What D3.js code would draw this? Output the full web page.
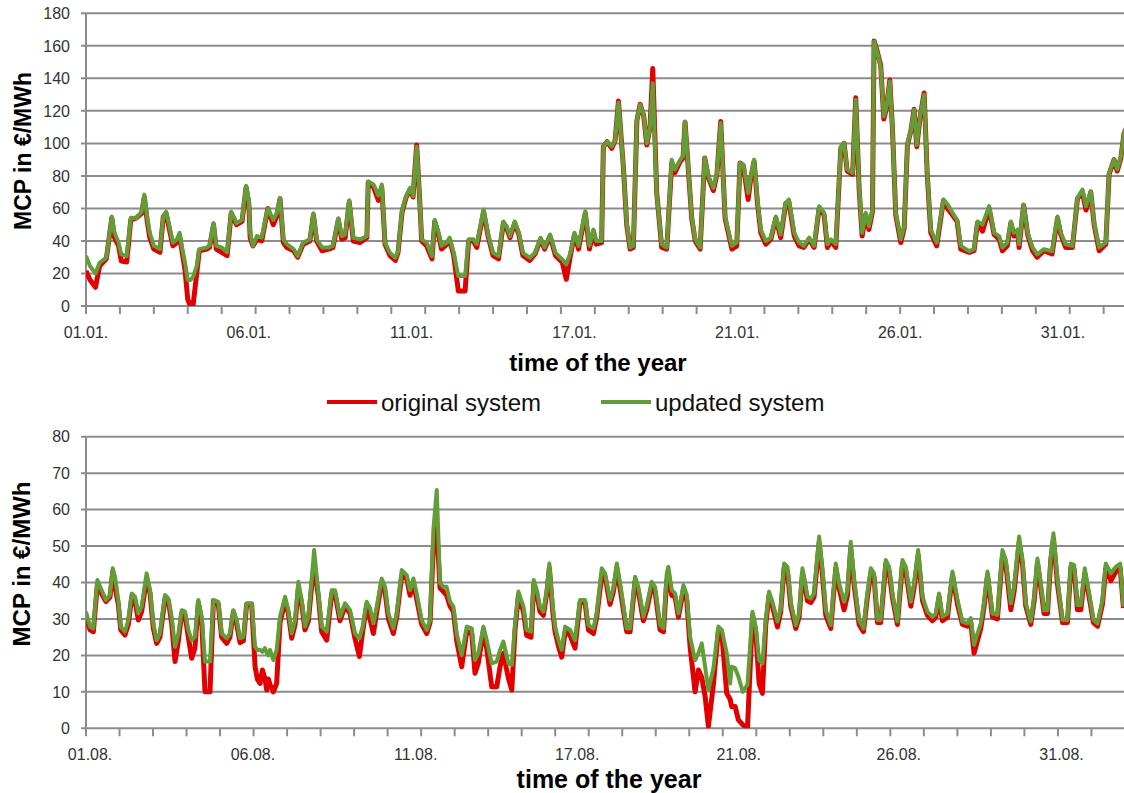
<!DOCTYPE html>
<html>
<head>
<meta charset="utf-8">
<script src="https://cdn.jsdelivr.net/npm/d3@7"></script>
<style>
  body { margin: 0; background: #fff; }
  svg { display: block; font-family: Arial, "Liberation Sans", sans-serif; }
</style>
</head>
<body>
<div class="chart"></div>
<script>
// ---- data (hour of month vs. MCP in EUR/MWh) ----
var seriesNames = ["original system", "updated system"];

// January
var janHours = [0,3,7,10,15,19,21,24,26,30,33,37,41,43,45,47,50,54.5,57,59,61,64,67,69,70.5,73,75,77,79,81.6,83.5,89,91,94,96,100,104,107,111,115,118,120,121,123,126,129.5,134,138,140.5,143,145.5,148,153,156,160,165,167.6,170,174,179,182,186,188.5,191,194,197,202,207,208,212,215.5,218,220.4,224,228,230,233,236,239,241,243.7,245.7,247.4,251,255,257,260,262,266,268,271,274.4,279.4,282,285.5,288,293,296.6,300,304,307.6,310,312.5,316,319,322,327,331,335,338,342,346,351,354,357,360,363,368,371,374,376,380,381.3,384,387.5,390,392.4,396,398.5,401,403.4,406,408.4,411,413.3,415.7,417.7,420.6,424.3,428,431.7,434,438,440,441.5,444,446.4,449,452.6,456,458.7,462.4,465,467.8,471,476,479.6,482,484.5,488,490,492.4,494.8,497.3,501,504.7,508.4,512,515.7,518,522,525.6,529,533,536.6,540.3,544,546.4,549,552.6,556.3,558.7,561,565,567.3,569.8,572,574.7,577,579.6,580.8,583.3,585.7,588,590,592.4,594.3,596.8,600.5,603,605.4,608,610.3,612.3,614.7,617.7,620,622.6,627,630,632,635,638.6,642,644.7,651,654.5,657,660.7,665.6,669.3,673,675.4,679,681.6,684,686.5,687.7,691,694,697.6,701,706,712,716,718.4,722,727,730.7,734.4,737,740.5,743,746.7,751.6,754,757.7,760,762.7,765,768];
var janOriginal = [21.5,16,11.5,24.5,29,54,42,37,27.6,27,53,54,57,67,53,42,35,33,55,57,49,37,39,43,35,22,4,0,1,20,34,35,36,50,35,33,31,57,50,52,73,63,42,37,41,40,60,50,55,66,39,36,34,30,38,40,56,40,34,35,36,53,41,42,64,40,39,42,76,73,65,73,38,31,28,33,58,67,72,67,99,69,40,37,29,52,43,35,38,41,31,9.2,9.2,40,40,36,58,42,31,29,51,48,42,51,44,31,28,32,41,35,43,31,27,16.4,31,44,35,57,35,46,38,39,98,101,97,102,126,86,50,35,36,114,124,117,99,110,146,70,36,35,88,82,89,91,113,83,54,40,35,91,79,71,81,113.5,54,35,37,88,86,65.5,79,89,64,45,38,41,54,42,63,64,43,37,36,41,36,60,56,36,40,36,97,100,83,81,128,72,43,56,47,58,163,156,148,115,122,139,110,56,39,48,99,108,121,98,116,131,81,45,37,54,65,60,56,52,35,33,34,51,46,60,44,41,34,37,51,43,46,36,62,44,34,30,34,32,54,44,36,36,66,70,59,70,50,34,38,81,90,83,91,106,112];
var janUpdated = [30.7,24.5,20,26.6,29.7,55,45,39,31.7,30.7,54.2,54,58,68.5,55,45,37,35,55,58,51,39,41,45,37,26.6,16,16,18,24.5,35,36,37,51,37,36,33,58,51,53,74,65,45,37,43,42,60,53,57,66.5,41,38,35,30.7,39,41,57,41,36,36,37,54,43,44,65,42,41,43,76.7,74.6,68,74.7,39,32.7,29.7,33.7,59.3,67.5,72.6,67.5,98,69.5,41,39,30.7,53,45,37,39,42,32.7,18.4,18.4,41,41,38,59.3,43,32.7,30.7,52,49,43,52,45,32.7,29.7,32.7,42,36,44,32.7,28.6,25.6,32.7,45,37,58.3,37,47,40,40,98,101,98,102,125,86,51,36,37,114.5,123.7,117.6,100,110,137,69.5,38,36,90,84,90,92,113.5,84,55,41,36,91,80,72.6,81.8,112.5,55,37,39,88,87,69.5,80,90,65.5,47,40,42,55,44,63.4,65.5,45,39,37,42,37,61.4,57.3,38,41,38,98,100,84,81.8,126.8,73.6,45,57.3,49,59.3,162.6,155.4,147,116.6,122.7,138,110,57.3,41,49,100,108,120.7,99,116.6,129.9,81.8,47,39,55,65.5,62.4,57.3,53,37,33.7,35,52,50,61.4,45,43,36,39,52,45,47,38,62.4,45,36,31.7,35,33.7,55,45,38,37,66.5,71.6,61.4,70.6,51,36,39,81.8,90,84,92,106,112];
var janTicks = ["01.01.", "06.01.", "11.01.", "17.01.", "21.01.", "26.01.", "31.01."];
var janTickHours = [0, 120, 240, 360, 480, 600, 720];

// August
var augHours = [0,2.9,5.4,8.4,11.5,14.7,17.7,19.7,21.4,23.8,25.6,28.7,31.2,33.7,36.1,38.6,41,44.7,47.2,49.6,52.1,54.5,58.2,60.7,63.1,65.6,68.1,70.5,73,75.4,77.9,80.3,82.8,85.3,87.7,91.4,93.9,97.5,100,103.7,106.1,108.6,111.1,113.5,116,118.4,122.1,124.6,126.3,128.3,130,131.9,133.2,134.4,135.6,138.1,140.5,143,146.7,149.1,151.6,154.1,156.5,159,161.4,163.9,166.3,168.1,171.3,173.7,177.4,181.1,183.5,187.2,190.9,194.6,198.3,201.5,203.9,206.9,209.3,211.8,214.3,217.9,220.4,222.9,226.5,229,232.7,236.4,238.8,241.3,243.7,247.4,251.1,253.6,256,258.5,260.9,263.4,265.8,268.3,270.8,273.2,276.9,280.6,284.3,286.7,289.2,292.9,295.3,299,302.7,305.2,307.6,311.3,313.8,316.2,318.7,322.4,324.8,328,330,332.2,334.6,337.1,339.6,341.5,344,345.7,348.2,350.6,353.1,356.8,360.4,364.1,367.8,370.3,374,376.4,380.1,382.6,386.2,388.7,391.2,394.8,398.5,401,404.7,407.1,410.8,413.3,416.9,419.4,423.1,425.6,428,429.2,431.7,434.2,436.6,440.3,442.8,445.2,448.9,451.4,453.8,456.3,458.7,462.4,466.1,468.6,472.2,474.7,475.9,478.4,480.8,484,487.5,491.2,493.6,496.1,498.5,501,503.4,505.9,509.6,512,514.5,517,519.4,523.1,525.6,528,529.2,531.7,534.2,536.6,540.3,542.8,545.2,548.9,552.6,555,558.7,561.2,563.6,566.1,569.8,573,575.9,578.4,580.8,583.3,585.7,589.4,591.9,594.3,598,601.7,604.2,607.9,610.3,613.3,616.5,620.1,623.8,626.3,628.7,631.2,634.9,638.6,642.3,645.9,649.6,652.1,654.5,657,659.5,661.9,664.4,668.1,671.7,675.4,677.9,681.6,684,687.7,690.2,692.6,696.3,698.8,701.2,703.7,706.1,708.6,711,713,716,719.7,723.3,725.8,728.3,730.7,733.2,736.1,739.3,742.5,745.5,749.1,751.6,755.3,759,762.2,764.6];
var augOriginal = [30.6,27,26.5,39.5,37,34.8,36,43,38.8,34,27,25.6,28.5,36,35,29.7,32,41,37,27.5,23.3,25,35.5,35,29,18.3,24,31.5,31,25,19.2,22,34.5,29,10,10,35,34,25,23.3,25,32,28.5,23.5,24,34,34,16.9,13.5,12.3,16,13.7,10.5,13.5,12,10,12.3,29,35,31.5,24.7,28.5,38.5,34,27,29.5,39,45,36,26.5,24.2,37,37,29.5,33.5,31.5,24.5,19.7,26.5,34,30,26,32,40,37.5,30,26,30.5,42,41,36.5,40,35.5,28.5,26,29,49.8,55.3,38.5,37.5,36.5,33.5,32,24,16.9,26.5,26,15.1,18,27,22,11.4,11.4,17,20.6,13.7,10.5,27,36.5,32,25.5,25,39.5,37,32,31,37,44,32,26.5,22.5,19.5,26.5,25.5,22,34.5,34.5,27,26,30.5,42,41.5,34,37.5,44,35.5,26.5,26.5,40.5,37.5,29.5,32.5,39,37.5,27,26.5,40.5,42,36.5,36,30.5,38,35,22.4,10,16,14,8.7,0.5,12,27,26,9.6,8,5.9,6,2.3,1,0,31,26.5,12.3,9.6,28.5,36.5,33.5,27.8,32,44,43,33.5,27.4,30.5,42.5,40.5,35,34.5,36,51,42,31,27.4,44,38.5,32.5,36.5,49.5,39.5,28.5,26.5,36,42.5,41.5,29,29,45,43,36,28.5,45,43,33.5,38.5,47.5,35,31,29.5,30.5,36,29.5,30.5,42,34,28.5,28,29,20.6,24,27.5,33.5,42,30.5,30,47.5,45,32.5,37.5,51,45,33.5,28.5,35,45.5,38.5,31.5,31.5,46,52,39.5,29,29,44,43.5,32.5,32.5,42.5,36,29,28,34,44,40.5,43,44,33];
var augUpdated = [32,27.9,27.4,40.7,37.9,35.2,36.6,43.9,41.6,35.2,27.9,26.5,29.7,37,36.1,31.5,33.4,42.5,37.9,28.8,24.2,26,36.6,35.6,30.6,22.4,26,32.4,32,27,24.2,25.1,35.2,30.6,18.3,18.3,35.2,34.7,26,24.7,26,32.4,29.7,24.7,25.1,34.3,34.3,22.4,21.5,21.5,21,22,20.6,20,21.5,18.7,21.5,30.6,36.1,32.4,26,29.7,40.2,35.2,27.9,30.6,40.7,48.9,37,27.9,26.5,37.9,37.9,30.6,34.3,32.4,26,24.7,27.9,34.7,33,28.8,33.4,41.1,38.8,31.5,27.4,31.5,43.4,42,37.9,41.1,37,29.7,27,29.7,54.4,65.4,39.8,38.8,38.8,34.7,33.4,26,20.1,27.9,27.4,18.7,20.6,27.9,24.2,17.8,18.3,21.5,23.8,17.8,17.4,28.3,37.5,33.4,27,26.5,40.7,37.9,33.4,32,37.9,45.2,33.4,27.9,24.2,21.5,27.9,27,24.2,35.2,35.2,28.3,27.4,31.5,43.9,42.5,35.2,38.4,45.2,37,27.4,27.4,41.6,38.8,30.6,33.8,40.2,38.8,28.3,27.4,42.5,44.3,37.9,37,31.5,39.3,36.6,25.1,18.7,20.6,23.3,16.9,10.5,16.5,27.9,27,20.6,12.3,16.9,16.5,14.2,10,12,32,27.9,18.7,17.8,29.7,37.5,34.7,29.3,32.9,45.2,44.3,34.7,28.3,31.5,43.9,41.6,36.1,35.6,37,52.6,43.4,32.4,28.3,45.2,39.8,34.7,37.9,51.2,40.7,29.7,27.4,37,43.9,42.5,29.7,29.7,46.2,44.3,37,29.3,46.2,44.3,34.7,39.8,48.9,36.1,32,30.6,31.5,37,30.6,31.5,43,35.2,29.3,28.8,30.2,22.9,26,28.8,34.7,43,31.5,31.1,48.9,46.2,34.3,38.8,52.6,46.2,34.3,29.3,36.1,46.6,39.8,32.4,32.4,47.1,53.5,40.7,29.7,29.7,45.2,44.8,33.8,33.8,43.9,37,29.7,28.8,35.2,45.2,42.5,44.3,45.2,33.4];
var augTicks = ["01.08.", "06.08.", "11.08.", "17.08.", "21.08.", "26.08.", "31.08."];
var augTickHours = [3, 123, 243, 362, 481, 599, 719];

// ---- layout ----
var svgWidth = 1124;
var svgHeight = 793;
var left = 86, right = 1124;
var redColor = "#e30000";
var greenColor = "#629e37";
var gridColor = "#8c8c8c";

var svg = d3.select(".chart")
  .append("svg")
  .attr("width", svgWidth)
  .attr("height", svgHeight);

function drawPanel(opt) {
  var x = d3.scaleLinear().domain([0, 765]).range([left, right]);
  var y = d3.scaleLinear().domain([0, opt.yMax]).range([opt.bottom, opt.top]);
  var g = svg.append("g");

  // clip to plot area
  var clipId = "clip-" + opt.id;
  svg.append("clipPath").attr("id", clipId)
    .append("rect")
    .attr("x", left).attr("y", opt.top - 10)
    .attr("width", right - left).attr("height", opt.bottom - opt.top + 10);

  // horizontal gridlines
  var yTicks = d3.range(0, opt.yMax + 1, opt.yStep);
  g.selectAll(".grid")
    .data(yTicks)
    .enter()
    .append("line")
    .attr("x1", left - 5)
    .attr("x2", right)
    .attr("y1", d => y(d))
    .attr("y2", d => y(d))
    .attr("stroke", gridColor)
    .attr("stroke-width", 2);

  // y tick labels
  g.selectAll(".ylab")
    .data(yTicks)
    .enter()
    .append("text")
    .attr("x", 70)
    .attr("y", d => y(d))
    .attr("dy", "0.36em")
    .attr("text-anchor", "end")
    .attr("font-size", 16)
    .attr("fill", "#333")
    .text(d => d);

  // left axis line
  g.append("line")
    .attr("x1", left).attr("x2", left)
    .attr("y1", opt.top).attr("y2", opt.bottom + 8)
    .attr("stroke", gridColor)
    .attr("stroke-width", 2);

  // x tick marks
  var xTicks = d3.range(opt.tickStep, 765, opt.tickStep);
  g.selectAll(".xtick")
    .data(xTicks)
    .enter()
    .append("line")
    .attr("x1", d => x(d)).attr("x2", d => x(d))
    .attr("y1", opt.bottom).attr("y2", opt.bottom + 8)
    .attr("stroke", gridColor)
    .attr("stroke-width", 2);

  // x tick labels
  g.selectAll(".xlab")
    .data(opt.labels)
    .enter()
    .append("text")
    .attr("x", (d, i) => x(opt.labelHours[i]))
    .attr("y", opt.bottom + 32)
    .attr("text-anchor", "middle")
    .attr("font-size", 16)
    .attr("fill", "#333")
    .text(d => d);

  // series
  var line = d3.line()
    .x(d => x(d[0]))
    .y(d => y(d[1]));

  var lines = g.append("g").attr("clip-path", "url(#" + clipId + ")");
  lines.append("path")
    .datum(opt.hours.map((h, i) => [h, opt.original[i]]))
    .attr("fill", "none")
    .attr("stroke", redColor)
    .attr("stroke-width", 5)
    .attr("stroke-linejoin", "round")
    .attr("d", line);
  lines.append("path")
    .datum(opt.hours.map((h, i) => [h, opt.updated[i]]))
    .attr("fill", "none")
    .attr("stroke", greenColor)
    .attr("stroke-width", 4)
    .attr("stroke-linejoin", "round")
    .attr("d", line);

  // y axis title
  g.append("text")
    .attr("transform", `translate(${opt.yTitleX}, ${opt.yTitleY}) rotate(-90)`)
    .attr("text-anchor", "middle")
    .attr("font-size", opt.titleSize)
    .attr("font-weight", "bold")
    .text("MCP in €/MWh");

  // x axis title
  g.append("text")
    .attr("x", opt.xTitleX)
    .attr("y", opt.xTitleY)
    .attr("text-anchor", "middle")
    .attr("font-size", opt.titleSize + 1)
    .attr("font-weight", "bold")
    .text("time of the year");
}

drawPanel({
  id: "jan", top: 13.3, bottom: 306, yMax: 180, yStep: 20, tickStep: 25,
  hours: janHours, original: janOriginal, updated: janUpdated,
  labels: janTicks, labelHours: janTickHours,
  yTitleX: 31, yTitleY: 151, xTitleX: 598, xTitleY: 371, titleSize: 23
});

drawPanel({
  id: "aug", top: 436.7, bottom: 728.3, yMax: 80, yStep: 10, tickStep: 24.7,
  hours: augHours, original: augOriginal, updated: augUpdated,
  labels: augTicks, labelHours: augTickHours,
  yTitleX: 30, yTitleY: 564, xTitleX: 609, xTitleY: 788, titleSize: 24
});

// legend between the panels
var legendItems = [
  { name: seriesNames[0], color: redColor, x: 327 },
  { name: seriesNames[1], color: greenColor, x: 601 }
];
var legend = svg.append("g");
legendItems.forEach(function(d) {
  legend.append("line")
    .attr("x1", d.x).attr("x2", d.x + 50)
    .attr("y1", 402).attr("y2", 402)
    .attr("stroke", d.color)
    .attr("stroke-width", 4);
  legend.append("text")
    .attr("x", d.x + 54)
    .attr("y", 411)
    .attr("font-size", 24)
    .attr("fill", "#111")
    .text(d.name);
});
</script>
</body>
</html>
